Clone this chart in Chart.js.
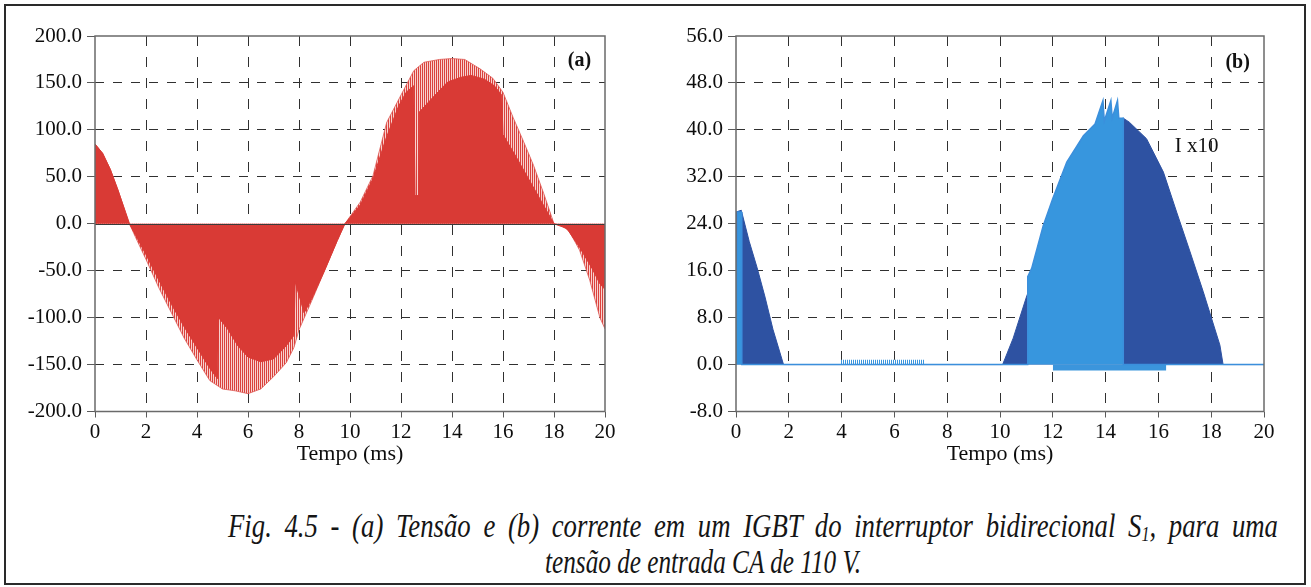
<!DOCTYPE html>
<html>
<head>
<meta charset="utf-8">
<script src="https://cdn.jsdelivr.net/npm/chart.js@4.4.1/dist/chart.umd.min.js"></script>
<style>
  html, body { margin: 0; padding: 0; background: #fff; }
  body { width: 1311px; height: 587px; position: relative; overflow: hidden;
         font-family: 'Liberation Serif', 'Times New Roman', serif; }
  #frame { position: absolute; left: 4px; top: 4px; width: 1298px; height: 577px;
           border: 2px solid #2a2a2a; }
  .panel { position: absolute; top: 0; height: 480px; }
  #pa { left: 0; width: 655px; }
  #pb { left: 655px; width: 650px; }
  .cap { position: absolute; font-family: 'Liberation Serif', serif; font-style: italic;
         font-size: 34px; line-height: 34px; white-space: nowrap; color: #151515; transform-origin: 0 0; }
  .cap sub { font-size: 60%; vertical-align: -0.2em; line-height: 0; }
</style>
</head>
<body>
<div id="frame"></div>
<div class="panel" id="pa"><canvas id="ca"></canvas></div>
<div class="panel" id="pb"><canvas id="cb"></canvas></div>
<div class="cap" id="cap1">Fig. 4.5 - (a) Tensão e (b) corrente em um IGBT do interruptor bidirecional S<sub>1</sub>, para uma</div>
<div class="cap" id="cap2">tensão de entrada CA de 110 V.</div>
<script>
// ---- axis ticks ----
const timeTicks = [0, 2, 4, 6, 8, 10, 12, 14, 16, 18, 20];
const voltTicks = [-200, -150, -100, -50, 0, 50, 100, 150, 200];
const currTicks = [-8, 0, 8, 16, 24, 32, 40, 48, 56];

// ---- (a) IGBT voltage [V] vs time [ms] ----
// outer envelope of the switched waveform
const vEnvT = [0, 0.3, 0.6, 0.9, 1.2, 1.35, 1.6, 2.0, 2.5, 3.0, 3.5, 4.0, 4.5, 5.0, 5.5, 6.0, 6.5, 7.0, 7.5, 7.8, 8.0, 8.5, 9.0, 9.5, 9.8,
               10.4, 10.9, 11.44, 11.96, 12.5, 12.9, 13.5, 14.0, 14.5, 15.1, 15.6, 16.0, 16.4, 16.8, 17.2, 17.6, 18.0,
               18.3, 18.6, 19.0, 19.4, 19.8, 20.0];
const vEnvV = [85, 75, 58, 36, 12, 0, -15, -38, -68, -95, -122, -145, -167, -176, -178, -181, -176, -163, -148, -132, -113, -82, -50, -18, 0,
               23, 51, 108, 135, 163, 172, 175, 176, 175, 165, 155, 140, 113, 88, 62, 32, 0,
               -2, -8, -28, -60, -100, -112];
// densely switched (solid) part
const vCoreT = [0, 0.3, 0.6, 0.9, 1.2, 1.35, 2.0, 2.5, 3.0, 3.5, 4.0, 4.5, 4.8, 4.85, 5.2, 5.6, 6.0, 6.5, 7.0, 7.5, 7.8, 7.85, 8.2, 8.5, 9.0, 9.5, 9.8,
                10.4, 10.9, 11.4, 11.9, 12.2, 12.5, 12.55, 12.7, 12.72, 13.3, 13.83, 14.35, 14.75, 15.27, 15.66, 15.95, 16.0, 16.5, 17.0, 17.5, 18.0,
                18.5, 19.0, 19.5, 19.8, 20.0];
const vCoreV = [85, 75, 58, 36, 12, 0, -33, -60, -86, -110, -132, -154, -165, -100, -112, -130, -142, -147, -144, -130, -119, -62, -95, -80, -50, -18, 0,
                20, 48, 90, 125, 140, 147, 30, 30, 119, 136, 151, 156, 158, 154, 147, 137, 95, 72, 48, 24, 0,
                -5, -25, -48, -64, -70];

// ---- (b) IGBT current x10 [A] vs time [ms] ----
const iDarkT = [0, 0.2, 0.5, 0.8, 1.1, 1.4, 1.8, 10.1, 10.5, 11.0, 11.2, 11.64, 12.0, 12.53, 13.16, 13.8, 14.3, 14.67,
                14.9, 15.55, 16.19, 16.69, 17.2, 17.7, 18.33, 18.45, 20];
const iDarkV = [26, 26.3, 21, 16.5, 11.5, 6, 0, 0, 4.5, 11.5, 14, 21, 26, 32, 37, 40, 41.5, 42,
                41.3, 38.5, 32.8, 26, 19.2, 12.4, 3.3, 0, 0];
const iLightT = [0, 0.05, 0.2, 0.22, 11.05, 11.05, 11.2, 11.64, 12.0, 12.53, 13.16, 13.6, 13.9, 13.95, 14.2, 14.25, 14.45, 14.5, 14.67, 14.67, 20];
const iLightV = [0, 26, 26, 0, 0, 15, 16.4, 23.7, 28.3, 34.5, 39, 41, 45, 41.5, 45, 42, 45, 42, 42, 0, 0];
const iPulseT = [3.95, 7.15];
const iPulseV = [0.8, 0.8];
const iNegT = [12.0, 16.3];
const iNegV = [-1.0, -1.0];

const pts = (t, v) => t.map((x, i) => ({ x, y: v[i] }));

Chart.defaults.font.family = "'Liberation Serif', 'Times New Roman', serif";
Chart.defaults.color = '#0d0d0d';

function stripes(c1, c2, w1, w2) {
  const cv = document.createElement('canvas');
  cv.width = w1 + w2; cv.height = 4;
  const g = cv.getContext('2d');
  g.fillStyle = c2; g.fillRect(0, 0, cv.width, 4);
  g.fillStyle = c1; g.fillRect(0, 0, w1, 4);
  return g.createPattern(cv, 'repeat');
}

// solid plot frame, optional zero line and in-plot labels
const framePlugin = {
  id: 'frame',
  afterDraw(chart, args, opts) {
    const { ctx, chartArea: a, scales } = chart;
    ctx.save();
    if (opts.zeroLine) {
      const y0 = Math.round(scales.y.getPixelForValue(0)) + 0.5;
      ctx.strokeStyle = opts.zeroLine; ctx.lineWidth = 1;
      ctx.beginPath(); ctx.moveTo(a.left, y0); ctx.lineTo(a.right, y0); ctx.stroke();
    }
    ctx.strokeStyle = '#6a6a6a'; ctx.lineWidth = 1.5;
    ctx.strokeRect(a.left, a.top, a.right - a.left, a.bottom - a.top);
    (opts.labels || []).forEach(l => {
      ctx.font = l.font;
      ctx.fillStyle = '#111';
      ctx.textAlign = 'center'; ctx.textBaseline = 'middle';
      ctx.fillText(l.text, scales.x.getPixelForValue(l.x), scales.y.getPixelForValue(l.y));
    });
    ctx.restore();
  }
};

function gridColor(min, max) {
  return ctx => {
    const v = ctx.tick ? ctx.tick.value : null;
    return (v === min || v === max || v === 0) ? 'rgba(0,0,0,0)' : '#303030';
  };
}

function makeScales(yTicks, yFmt, yWidth) {
  const ymin = yTicks[0], ymax = yTicks[yTicks.length - 1];
  return {
    x: {
      type: 'linear', min: 0, max: 20, z: 1,
      afterBuildTicks: s => { s.ticks = timeTicks.map(v => ({ value: v })); },
      afterFit: s => { s.height = 68.5; },
      ticks: { callback: v => String(v), font: { size: 21 }, padding: 2, maxRotation: 0, autoSkip: false },
      grid: { color: gridColor(0, 20), lineWidth: 1, tickLength: 6, tickColor: '#5a5a5a', tickWidth: 1 },
      border: { display: false, dash: [10, 11] },
      title: { display: true, text: 'Tempo (ms)', font: { size: 22 }, padding: { top: 0, bottom: 13 } }
    },
    y: {
      min: ymin, max: ymax, z: 1,
      afterBuildTicks: s => { s.ticks = yTicks.map(v => ({ value: v })); },
      afterFit: s => { s.width = yWidth; },
      ticks: { callback: v => yFmt(v), font: { size: 21 }, padding: 5 },
      grid: { color: gridColor(ymin, ymax), lineWidth: 1, tickLength: 8, tickColor: '#5a5a5a', tickWidth: 1 },
      border: { display: false, dash: [9, 9] }
    }
  };
}

const common = {
  responsive: true, maintainAspectRatio: false, animation: false,
  devicePixelRatio: 1,
  elements: { point: { radius: 0 }, line: { tension: 0 } },
};

// (a) voltage
new Chart(document.getElementById('ca'), {
  type: 'line',
  data: {
    datasets: [
      { label: 'envelope', data: pts(vEnvT, vEnvV), fill: 'origin', order: 2,
        backgroundColor: stripes('#da423d', '#f8d2cf', 1, 1),
        borderColor: 'rgba(222,90,85,0.8)', borderWidth: 1 },
      { label: 'core', data: pts(vCoreT, vCoreV), fill: 'origin', order: 1,
        backgroundColor: '#d93a35', borderColor: '#d93a35', borderWidth: 1 }
    ]
  },
  options: Object.assign({}, common, {
    layout: { padding: { top: 36, right: 50, left: 0, bottom: 0 } },
    scales: makeScales(voltTicks, v => v.toFixed(1), 95),
    plugins: {
      legend: { display: false }, tooltip: { enabled: false },
      frame: { zeroLine: '#3a3a3a', labels: [{ text: '(a)', x: 19.0, y: 173.5, font: 'bold 20px "Liberation Serif"' }] }
    }
  }),
  plugins: [framePlugin]
});

// (b) current x10
new Chart(document.getElementById('cb'), {
  type: 'line',
  data: {
    datasets: [
      { label: 'dark', data: pts(iDarkT, iDarkV), fill: 'origin', order: 4,
        backgroundColor: '#2e52a2', borderColor: '#2e52a2', borderWidth: 1 },
      { label: 'neg', data: pts(iNegT, iNegV), fill: 'origin', order: 3,
        backgroundColor: '#3b95dc', borderWidth: 0 },
      { label: 'pulse', data: pts(iPulseT, iPulseV), fill: 'origin', order: 2,
        backgroundColor: stripes('#3b95dc', '#ffffff', 1, 1), borderWidth: 0 },
      { label: 'light', data: pts(iLightT, iLightV), fill: 'origin', order: 1,
        backgroundColor: '#3796de', borderColor: '#3b8fdc', borderWidth: 1.5 }
    ]
  },
  options: Object.assign({}, common, {
    layout: { padding: { top: 36, right: 41, left: 0, bottom: 0 } },
    scales: makeScales(currTicks, v => v.toFixed(1), 81),
    plugins: {
      legend: { display: false }, tooltip: { enabled: false },
      frame: { labels: [
        { text: '(b)', x: 19.0, y: 51.5, font: 'bold 20px "Liberation Serif"' },
        { text: 'I x10', x: 17.45, y: 37.2, font: '21px "Liberation Serif"' }
      ] }
    }
  }),
  plugins: [framePlugin]
});

// caption: each line is fitted between its own margins, the first one with a little extra word spacing
const cap1 = document.getElementById('cap1');
const cap2 = document.getElementById('cap2');
const k2 = 316 / cap2.getBoundingClientRect().width;
const k1 = k2 * 1.06;
const w1 = cap1.getBoundingClientRect().width;
const gaps = cap1.textContent.split(' ').length - 1;
cap1.style.wordSpacing = Math.max(0, (1050 / k1 - w1) / gaps) + 'px';
const k1b = 1050 / cap1.getBoundingClientRect().width;
cap1.style.left = '228px'; cap1.style.top = '509px';
cap2.style.left = '545px'; cap2.style.top = '545px';
cap1.style.transform = 'scaleX(' + k1b + ')';
cap2.style.transform = 'scaleX(' + k2 + ')';
</script>
</body>
</html>
